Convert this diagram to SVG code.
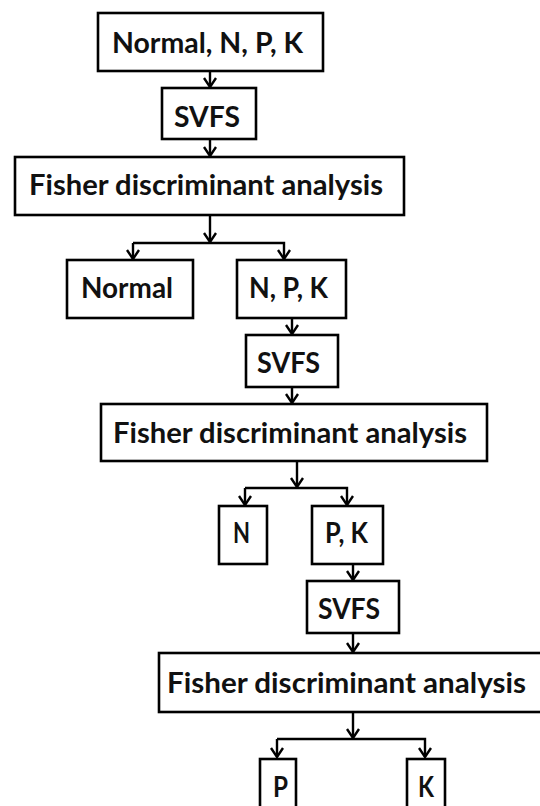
<svg xmlns="http://www.w3.org/2000/svg" width="540" height="806" viewBox="0 0 540 806">
<style>
.box{fill:#fff;stroke:#000;stroke-width:2.6}
.t{font-family:Lato,"Open Sans","Liberation Sans",sans-serif;font-weight:700;font-size:28px;fill:#111}
.c{fill:none;stroke:#000;stroke-width:2.4}
</style>
<defs>
<marker id="ah" markerUnits="userSpaceOnUse" markerWidth="14" markerHeight="16" viewBox="-12 -8 14 16" refX="0" refY="0" orient="auto">
<path d="M-9,-6 L0,0 L-9,6" fill="none" stroke="#000" stroke-width="2.4"/>
</marker>
</defs>
<rect width="540" height="806" fill="#fff"/>
<g id="connectors">
<path class="c" d="M210,71 V87" marker-end="url(#ah)"/>
<path class="c" d="M210,139 V156" marker-end="url(#ah)"/>
<path class="c" d="M210,215 V242" marker-end="url(#ah)"/>
<path class="c" d="M133,243 H284 V259" marker-end="url(#ah)"/>
<path class="c" d="M133,243 V259" marker-end="url(#ah)"/>
<path class="c" d="M292,318 V334" marker-end="url(#ah)"/>
<path class="c" d="M292,387 V403" marker-end="url(#ah)"/>
<path class="c" d="M297,461 V487" marker-end="url(#ah)"/>
<path class="c" d="M245,488 H347 V505" marker-end="url(#ah)"/>
<path class="c" d="M245,488 V505" marker-end="url(#ah)"/>
<path class="c" d="M353,564 V580" marker-end="url(#ah)"/>
<path class="c" d="M353,633 V652" marker-end="url(#ah)"/>
<path class="c" d="M353,712 V738" marker-end="url(#ah)"/>
<path class="c" d="M277,739 H425 V757" marker-end="url(#ah)"/>
<path class="c" d="M277,739 V757" marker-end="url(#ah)"/>
</g>
<g id="n1"><rect class="box" x="98" y="13" width="225" height="58"/><text class="t" x="112" y="53" textLength="191" lengthAdjust="spacingAndGlyphs">Normal, N, P, K</text></g>
<g id="svfs1"><rect class="box" x="162" y="88" width="94" height="51"/><text class="t" x="174" y="127" textLength="66" lengthAdjust="spacingAndGlyphs">SVFS</text></g>
<g id="fda1"><rect class="box" x="15" y="157" width="389" height="58"/><text class="t" x="29" y="195" textLength="354" lengthAdjust="spacingAndGlyphs">Fisher discriminant analysis</text></g>
<g id="normal"><rect class="box" x="67" y="260" width="126" height="58"/><text class="t" x="81" y="298" textLength="92" lengthAdjust="spacingAndGlyphs">Normal</text></g>
<g id="npk"><rect class="box" x="237" y="260" width="109" height="58"/><text class="t" x="249" y="298" textLength="79" lengthAdjust="spacingAndGlyphs">N, P, K</text></g>
<g id="svfs2"><rect class="box" x="246" y="335" width="92" height="52"/><text class="t" x="257" y="373" textLength="63" lengthAdjust="spacingAndGlyphs">SVFS</text></g>
<g id="fda2"><rect class="box" x="101" y="404" width="386" height="57"/><text class="t" x="113" y="443" textLength="354" lengthAdjust="spacingAndGlyphs">Fisher discriminant analysis</text></g>
<g id="n"><rect class="box" x="219" y="506" width="48" height="58"/><text class="t" x="233" y="543" textLength="17" lengthAdjust="spacingAndGlyphs">N</text></g>
<g id="pk"><rect class="box" x="312" y="506" width="71" height="58"/><text class="t" x="325" y="543" textLength="43" lengthAdjust="spacingAndGlyphs">P, K</text></g>
<g id="svfs3"><rect class="box" x="307" y="581" width="92" height="52"/><text class="t" x="318" y="619" textLength="62" lengthAdjust="spacingAndGlyphs">SVFS</text></g>
<g id="fda3"><rect class="box" x="159" y="653" width="395" height="59"/><text class="t" x="167" y="693" textLength="359" lengthAdjust="spacingAndGlyphs">Fisher discriminant analysis</text></g>
<g id="p"><rect class="box" x="260" y="759" width="36" height="60"/><text class="t" x="273" y="797" textLength="15" lengthAdjust="spacingAndGlyphs">P</text></g>
<g id="k"><rect class="box" x="407" y="759" width="38" height="60"/><text class="t" x="418" y="797" textLength="16" lengthAdjust="spacingAndGlyphs">K</text></g>
</svg>
